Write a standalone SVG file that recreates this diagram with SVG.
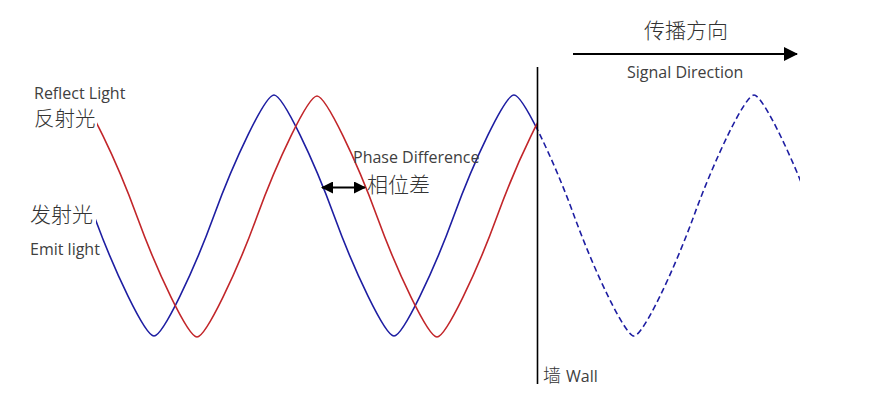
<svg xmlns="http://www.w3.org/2000/svg" width="890" height="401" viewBox="0 0 890 401">
<style>
.lbl{font-family:"Open Sans","Liberation Sans",sans-serif;font-size:16px;fill:#404040}
.cjk{font-family:"Noto Sans CJK SC","Noto Sans",sans-serif;font-size:21px;font-weight:300;fill:#333}
.wave{fill:none;stroke-width:1.6;stroke-linejoin:round}
.blue{stroke:#1e1ea2}
.red{stroke:#c2262a}
.arr{stroke:#000;stroke-width:2;fill:none}
</style>
<defs>
<clipPath id="cBlue"><rect x="96" y="0" width="441.5" height="401"/></clipPath>
<clipPath id="cRed"><rect x="97" y="0" width="440.5" height="401"/></clipPath>
<clipPath id="cDash"><rect x="537.5" y="0" width="262.5" height="401"/></clipPath>
<marker id="head" viewBox="0 0 12 12" refX="11" refY="6" markerWidth="12" markerHeight="12" markerUnits="userSpaceOnUse" orient="auto-start-reverse">
<path d="M0,0 L12,6 L0,12 Z" fill="#000"/>
</marker>
<marker id="head2" viewBox="0 0 14 14" refX="13" refY="7" markerWidth="14" markerHeight="14" markerUnits="userSpaceOnUse" orient="auto">
<path d="M0,0 L14,7 L0,14 Z" fill="#000"/>
</marker>
</defs>
<rect width="890" height="401" fill="#fff"/>

<g id="waves">
<path id="emit-wave" class="wave blue" clip-path="url(#cBlue)" d="M94 215.5 C114 270.5 145 336 154 336 C163 336 194 270.5 214 215.5 C234 160.5 265 95 274 95 C283 95 314 160.5 334 215.5 C354 270.5 385 336 394 336 C403 336 434 270.5 454 215.5 C474 160.5 505 95 514 95 C523 95 554 160.5 574 215.5"/>
<path id="reflect-wave" class="wave red" clip-path="url(#cRed)" d="M77 96 C86 96 117 161.5 137 216.5 C157 271.5 188 337 197 337 C206 337 237 271.5 257 216.5 C277 161.5 308 96 317 96 C326 96 357 161.5 377 216.5 C397 271.5 428 337 437 337 C446 337 477 271.5 497 216.5 C517 161.5 548 96 557 96"/>
<path id="signal-wave" class="wave blue" stroke-dasharray="6 3.5" clip-path="url(#cDash)" d="M514 95 C523 95 554 160.5 574 215.5 C594 270.5 625 336 634 336 C643 336 674 270.5 694 215.5 C714 160.5 745 95 754 95 C763 95 794 160.5 814 215.5"/>
</g>

<g id="wall">
<line x1="537.5" y1="67" x2="537.5" y2="384" stroke="#000" stroke-width="1.6"/>
<text x="543" y="382" class="cjk" style="font-size:18px">墙</text>
<text x="566" y="382" class="lbl">Wall</text>
</g>

<g id="connectors">
<line class="arr" x1="322" y1="187.5" x2="365" y2="187.5" marker-start="url(#head)" marker-end="url(#head)"/>
<line class="arr" x1="573" y1="54" x2="797" y2="54" marker-end="url(#head2)"/>
</g>

<g id="reflect-label">
<text x="34" y="99" class="lbl">Reflect Light</text>
<text x="34" y="126" class="cjk" style="font-size:20.5px">反射光</text>
</g>

<g id="emit-label">
<text x="30" y="222" class="cjk">发射光</text>
<text x="30" y="255" class="lbl">Emit light</text>
</g>

<g id="phase-label">
<text x="353" y="163" class="lbl">Phase Difference</text>
<text x="367" y="192" class="cjk">相位差</text>
</g>

<g id="direction-label">
<text x="644" y="38" class="cjk">传播方向</text>
<text x="627" y="78" class="lbl">Signal Direction</text>
</g>
</svg>
